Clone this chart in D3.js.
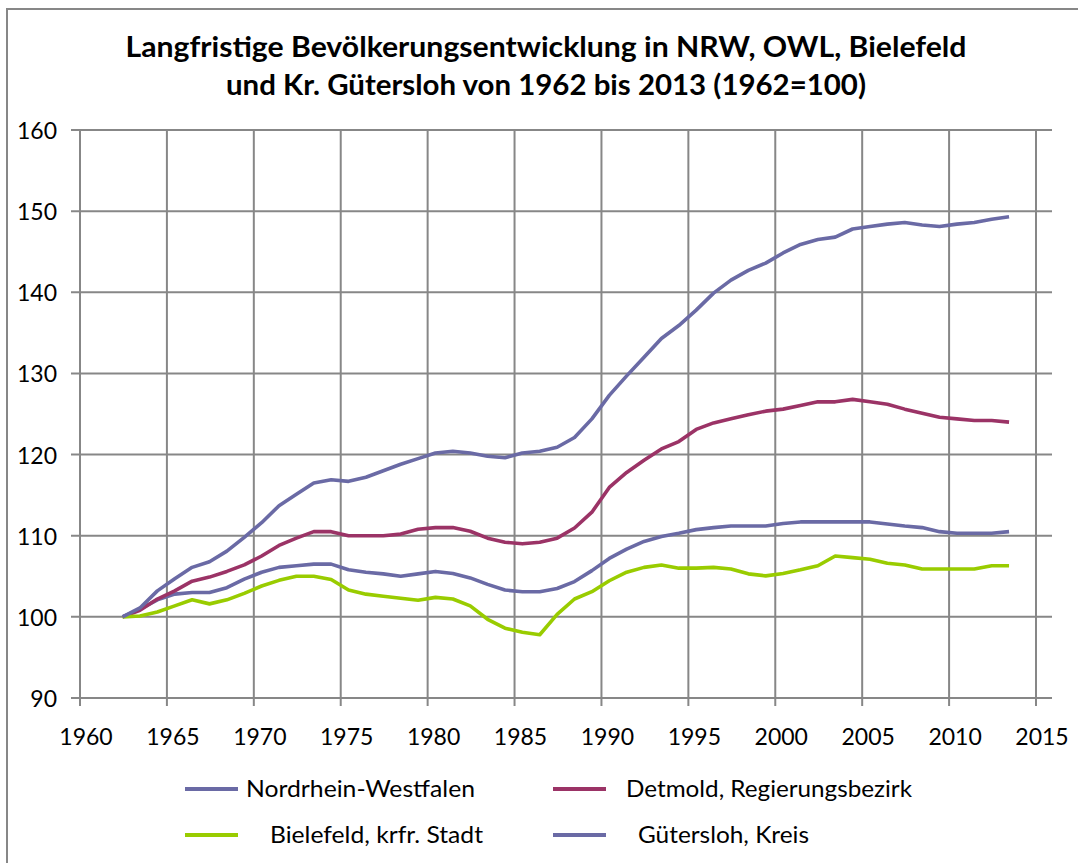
<!DOCTYPE html>
<html><head><meta charset="utf-8">
<script src="https://cdn.jsdelivr.net/npm/d3@7"></script>
<style>html,body{margin:0;padding:0;background:#fff;}</style>
</head><body>
<svg id="c" width="1078" height="863"></svg>
<script>
const years = d3.range(1962, 2014);
const guetersloh = [100,101.1,103.2,104.7,106.1,106.8,108.1,109.8,111.6,113.7,115.1,116.5,116.9,116.7,117.2,118.0,118.8,119.5,120.2,120.4,120.2,119.8,119.6,120.2,120.4,120.9,122.1,124.4,127.3,129.7,132.0,134.3,135.9,137.8,139.9,141.5,142.7,143.6,144.85,145.9,146.5,146.8,147.8,148.1,148.4,148.6,148.3,148.1,148.4,148.6,149.0,149.3];
const detmold = [100,100.8,102.2,103.2,104.4,104.9,105.6,106.4,107.5,108.8,109.7,110.5,110.5,110.0,110.0,110.0,110.2,110.8,111.0,111.0,110.55,109.7,109.2,109.0,109.2,109.7,110.95,112.9,115.95,117.8,119.3,120.7,121.6,123.1,123.9,124.4,124.9,125.35,125.6,126.05,126.5,126.5,126.8,126.5,126.2,125.6,125.1,124.6,124.4,124.2,124.2,124.0];
const nrw = [100,100.95,102.1,102.8,103.0,103.0,103.6,104.65,105.5,106.1,106.3,106.5,106.5,105.8,105.5,105.3,105.0,105.3,105.6,105.35,104.8,104.0,103.3,103.1,103.1,103.5,104.35,105.7,107.2,108.35,109.3,109.9,110.3,110.75,111.0,111.2,111.2,111.2,111.5,111.7,111.7,111.7,111.7,111.7,111.45,111.2,111.0,110.5,110.3,110.3,110.3,110.5];
const bielefeld = [100,100.1,100.6,101.35,102.1,101.6,102.1,102.9,103.8,104.5,105.0,105.0,104.6,103.3,102.8,102.55,102.3,102.05,102.4,102.2,101.35,99.7,98.6,98.1,97.8,100.3,102.2,103.1,104.45,105.5,106.1,106.4,106.0,106.0,106.1,105.9,105.3,105.05,105.35,105.8,106.3,107.5,107.3,107.1,106.6,106.4,105.9,105.9,105.9,105.9,106.3,106.3];
const xTicks = [1960,1965,1970,1975,1980,1985,1990,1995,2000,2005,2010,2015];
const yTicks = [90,100,110,120,130,140,150,160];
const seriesNames = ["Nordrhein-Westfalen","Detmold, Regierungsbezirk","Bielefeld, krfr. Stadt","Gütersloh, Kreis"];
const titleLines = ["Langfristige Bevölkerungsentwicklung in NRW, OWL, Bielefeld","und Kr. Gütersloh von 1962 bis 2013 (1962=100)"];

const blue = "#6a6aa5", red = "#9b3366", green = "#99cc00", grid = "#878787";
const series = [
  {name: seriesNames[0], values: nrw, color: blue},
  {name: seriesNames[1], values: detmold, color: red},
  {name: seriesNames[2], values: bielefeld, color: green},
  {name: seriesNames[3], values: guetersloh, color: blue}
];
const yearPos = 0.45; // points placed within the year

const svg = d3.select("#c");
const font = "Lato, 'Open Sans', sans-serif";

svg.append("rect").attr("x",7).attr("y",9).attr("width",1120).attr("height",900)
  .attr("fill","#fff").attr("stroke",grid).attr("stroke-width",2);

const x = d3.scaleLinear().domain([1960,2015]).range([80,1036]);
const y = d3.scaleLinear().domain([90,160]).range([698,130]);

// horizontal grid
svg.append("g").selectAll("line").data(yTicks).join("line")
  .attr("x1",71).attr("x2",1052).attr("y1",d=>y(d)).attr("y2",d=>y(d))
  .attr("stroke",grid).attr("stroke-width",2);
// vertical grid
svg.append("g").selectAll("line").data(xTicks).join("line")
  .attr("x1",d=>x(d)).attr("x2",d=>x(d)).attr("y1",y(160)).attr("y2",y(90)+8)
  .attr("stroke",grid).attr("stroke-width",2);

// y labels
svg.append("g").selectAll("text").data(yTicks).join("text")
  .attr("x",57).attr("y",d=>y(d)+9).attr("text-anchor","end")
  .attr("font-family",font).attr("font-size",23).attr("fill","#000").text(d=>d);
// x labels
svg.append("g").selectAll("text").data(xTicks).join("text")
  .attr("x",d=>x(d)+6).attr("y",745).attr("text-anchor","middle")
  .attr("font-family",font).attr("font-size",23).attr("fill","#000").text(d=>d);

// lines
const line = d3.line().x((d,i)=>x(years[i]+yearPos)).y(d=>y(d));
svg.append("g").selectAll("path").data(series).join("path")
  .attr("d",d=>line(d.values)).attr("fill","none")
  .attr("stroke",d=>d.color).attr("stroke-width",3.6).attr("stroke-linejoin","round");

// title
const titleW = [841, 640];
svg.append("g").selectAll("text").data(titleLines).join("text")
  .attr("x",546).attr("y",(d,i)=>57+i*38).attr("text-anchor","middle")
  .attr("font-family",font).attr("font-weight","bold").attr("font-size",29).attr("fill","#000")
  .attr("textLength",(d,i)=>titleW[i]).attr("lengthAdjust","spacingAndGlyphs")
  .text(d=>d);

// legend
const legPos = [
  {lx:185, ty:789, tx:246, w:229},
  {lx:553, ty:789, tx:626, w:286},
  {lx:185, ty:835, tx:270, w:213},
  {lx:553, ty:835, tx:638, w:171}
];
const leg = svg.append("g").selectAll("g").data(series).join("g");
leg.append("line").attr("x1",(d,i)=>legPos[i].lx).attr("x2",(d,i)=>legPos[i].lx+53)
  .attr("y1",(d,i)=>legPos[i].ty).attr("y2",(d,i)=>legPos[i].ty)
  .attr("stroke",d=>d.color).attr("stroke-width",4);
leg.append("text").attr("x",(d,i)=>legPos[i].tx).attr("y",(d,i)=>legPos[i].ty+8)
  .attr("font-family",font).attr("font-size",23).attr("fill","#000")
  .attr("textLength",(d,i)=>legPos[i].w).attr("lengthAdjust","spacingAndGlyphs")
  .text(d=>d.name);
</script>
</body></html>
